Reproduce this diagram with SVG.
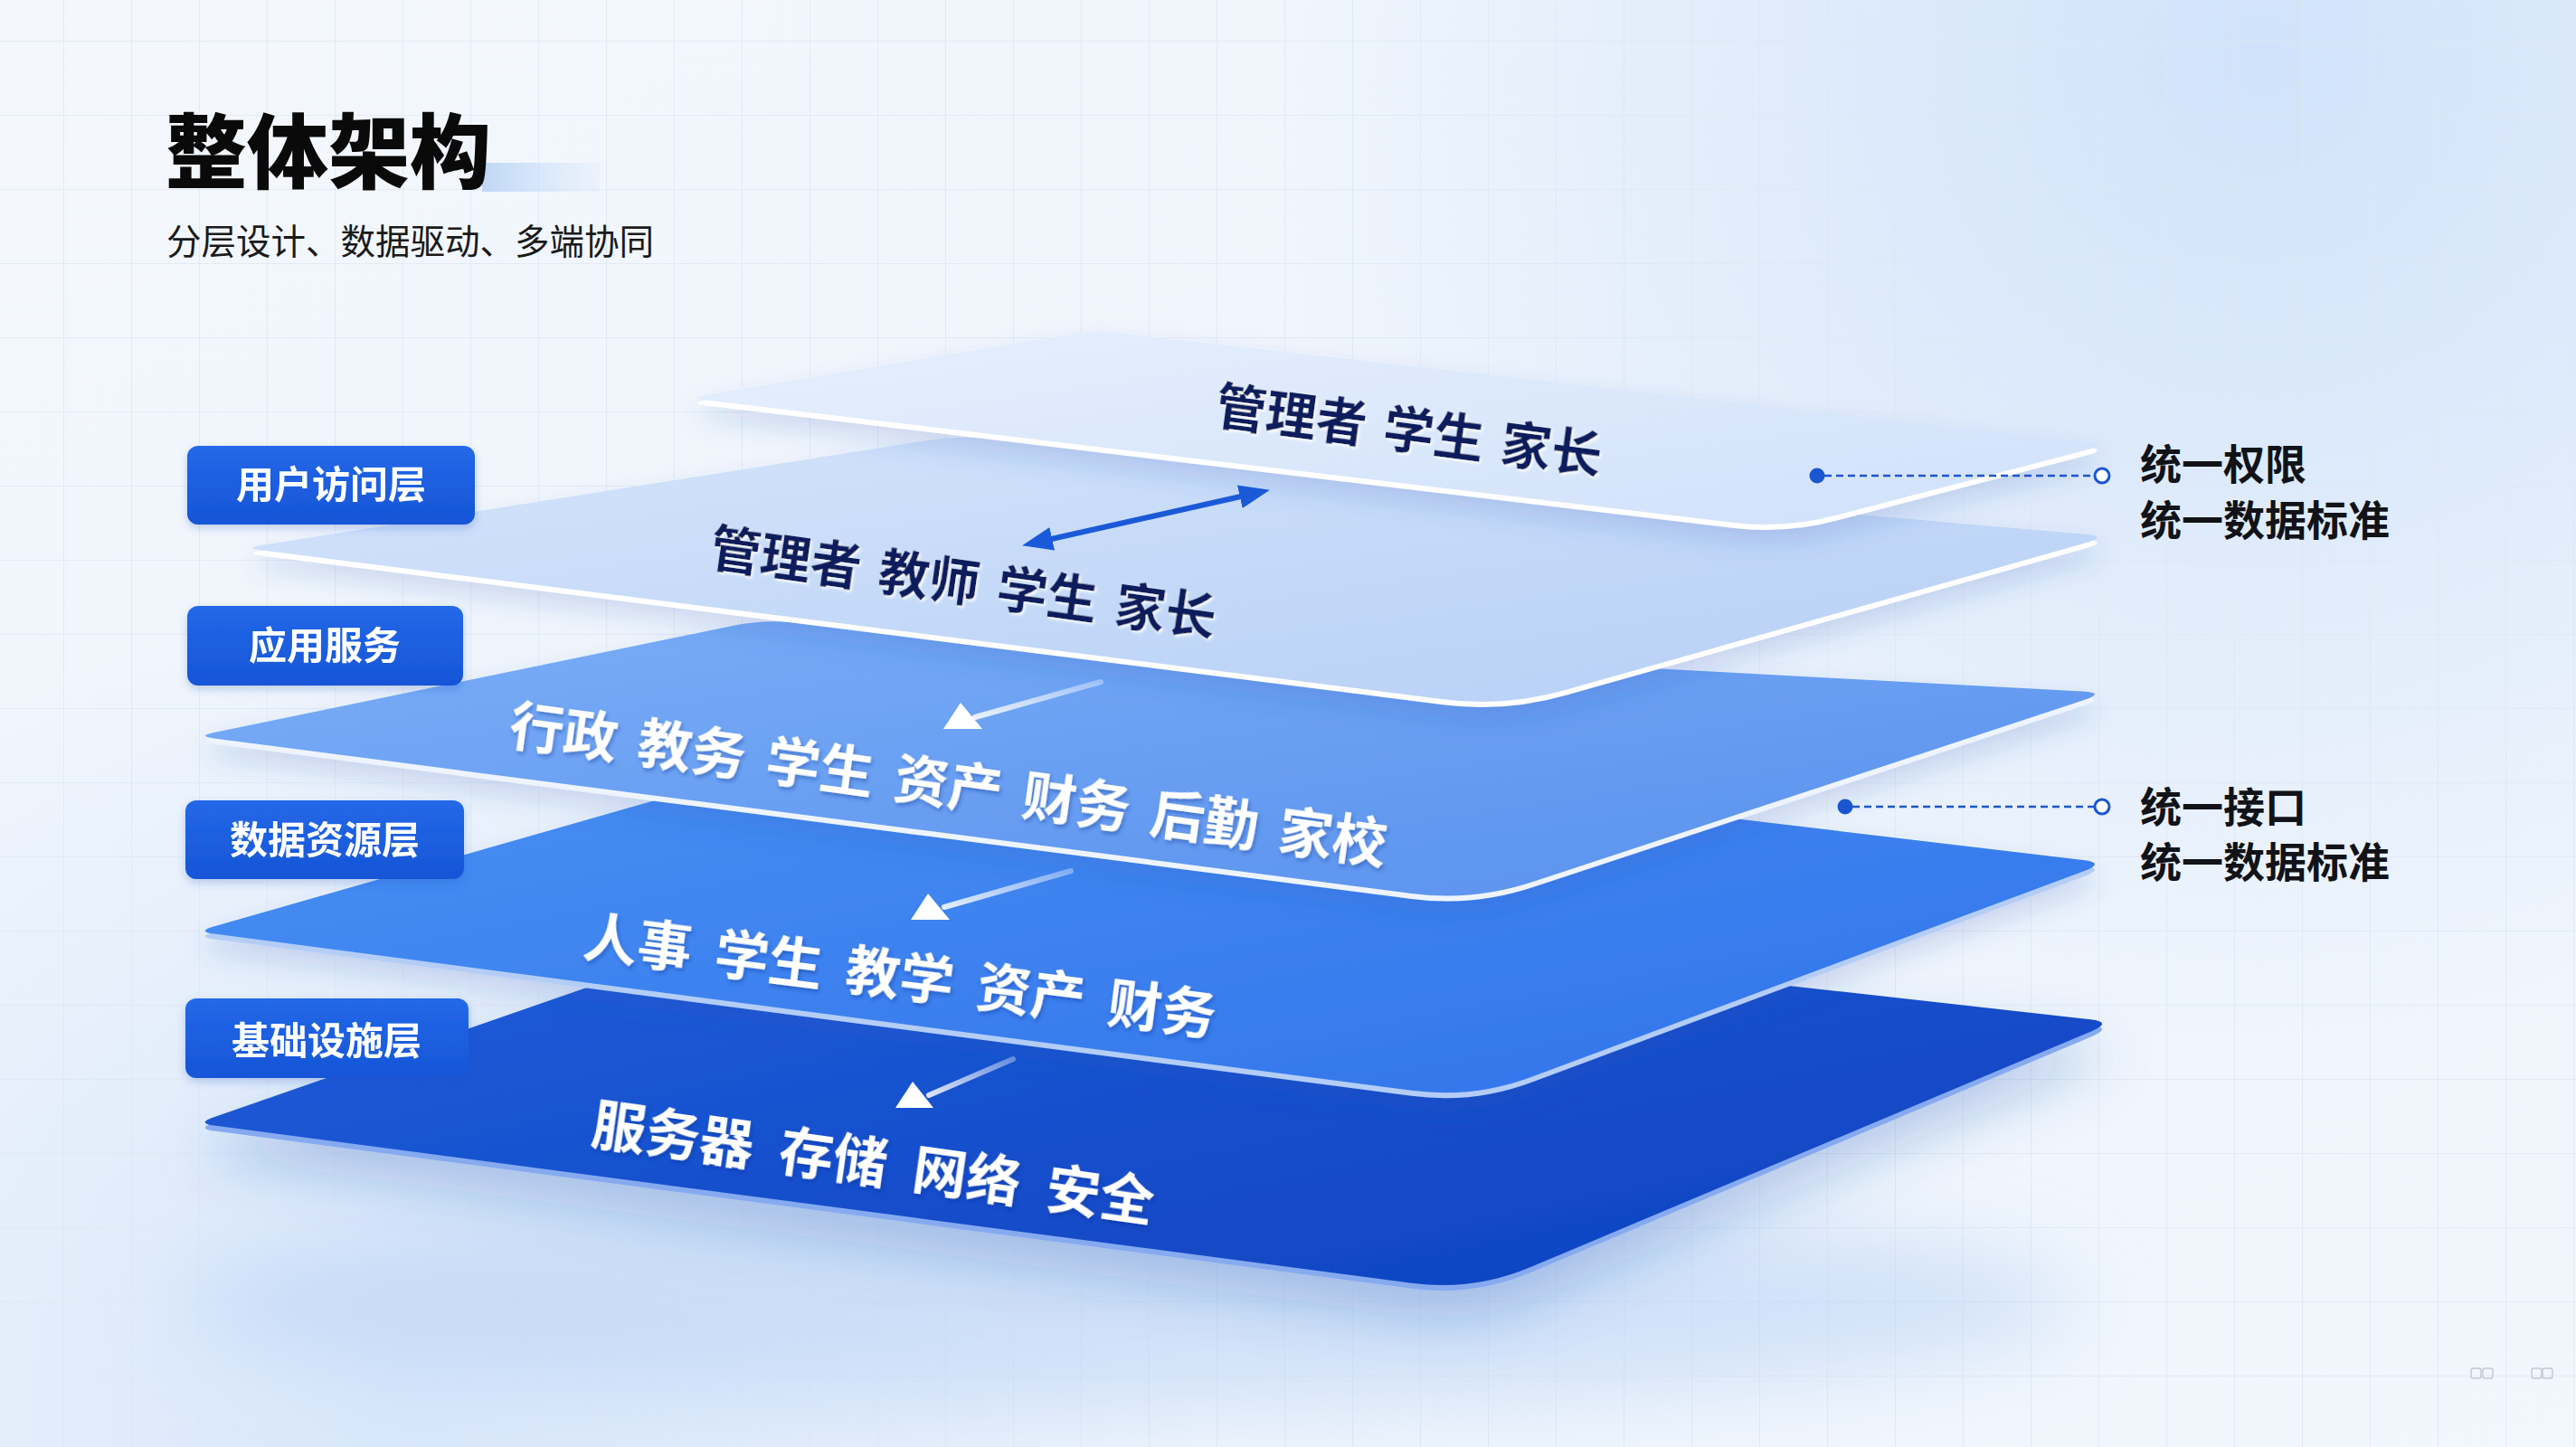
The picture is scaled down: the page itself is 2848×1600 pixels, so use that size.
<svg xmlns="http://www.w3.org/2000/svg" width="2848" height="1600" viewBox="0 0 2848 1600">
<defs>
<style>
.cjk{font-family:"Noto Sans CJK SC","Noto Sans",sans-serif}
.navy{font-family:"Noto Sans CJK SC",sans-serif;font-weight:700;font-size:56px;fill:#0c1a5c}
.wt{font-family:"Noto Sans CJK SC",sans-serif;font-weight:700;font-size:60px;fill:#ffffff}
.lbl-rect{fill:url(#lblg)}
.lbl-txt{font-family:"Noto Sans CJK SC",sans-serif;font-weight:700;font-size:42px;fill:#ffffff;text-anchor:middle}
.ann{font-family:"Noto Sans CJK SC",sans-serif;font-weight:700;font-size:46px;fill:#111318}
.dash{stroke:#1d56c9;stroke-width:2.4;stroke-dasharray:8 5;fill:none}
.dotf{fill:#1a56d0}
.doto{fill:#ffffff;stroke:#1a56d0;stroke-width:3}
.warr{fill:#ffffff}
</style>
<pattern id="grid" x="70" y="45" width="75" height="82" patternUnits="userSpaceOnUse">
<path d="M0,0 V82 M0,0 H75" stroke="#dde7f3" stroke-width="1.6" fill="none"/>
</pattern>
<linearGradient id="bg" x1="0" y1="0" x2="1" y2="1">
<stop offset="0" stop-color="#f4f8fd"/>
<stop offset="0.55" stop-color="#eef4fc"/>
<stop offset="1" stop-color="#f2f7fd"/>
</linearGradient>
<radialGradient id="glowTR" cx="2500" cy="60" r="1100" gradientUnits="userSpaceOnUse">
<stop offset="0" stop-color="#cfe2fa" stop-opacity="0.95"/>
<stop offset="1" stop-color="#cfe2fa" stop-opacity="0"/>
</radialGradient>
<radialGradient id="glowBL" cx="450" cy="1550" r="900" gradientUnits="userSpaceOnUse">
<stop offset="0" stop-color="#d2e3fa" stop-opacity="0.8"/>
<stop offset="1" stop-color="#d2e3fa" stop-opacity="0"/>
</radialGradient>
<linearGradient id="titlebar" x1="0" y1="0" x2="1" y2="0">
<stop offset="0" stop-color="#bcd5f6" stop-opacity="0.95"/>
<stop offset="1" stop-color="#d8e7fa" stop-opacity="0.3"/>
</linearGradient>
<linearGradient id="g1" x1="0" y1="0" x2="1" y2="1">
<stop offset="0" stop-color="#e6effd"/>
<stop offset="1" stop-color="#d0e1fa"/>
</linearGradient>
<linearGradient id="g2" x1="0" y1="0" x2="1" y2="1">
<stop offset="0" stop-color="#d4e4fb"/>
<stop offset="1" stop-color="#b6cff6"/>
</linearGradient>
<linearGradient id="g3" x1="0" y1="0" x2="1" y2="1">
<stop offset="0" stop-color="#7aaef7"/>
<stop offset="1" stop-color="#5890ed"/>
</linearGradient>
<linearGradient id="g4" x1="0" y1="0" x2="1" y2="1">
<stop offset="0" stop-color="#4a92f4"/>
<stop offset="1" stop-color="#3072ea"/>
</linearGradient>
<linearGradient id="g5" x1="0" y1="0" x2="1" y2="1">
<stop offset="0" stop-color="#2160dd"/>
<stop offset="1" stop-color="#0d40bd"/>
</linearGradient>
<linearGradient id="lblg" x1="0" y1="0" x2="0" y2="1">
<stop offset="0" stop-color="#2368e8"/>
<stop offset="1" stop-color="#1655d6"/>
</linearGradient>
<linearGradient id="fade" x1="1" y1="0" x2="0" y2="1">
<stop offset="0" stop-color="#ffffff" stop-opacity="0.35"/>
<stop offset="1" stop-color="#ffffff" stop-opacity="0.85"/>
</linearGradient>
<filter id="sh" x="-10%" y="-20%" width="120%" height="150%">
<feDropShadow dx="0" dy="14" stdDeviation="14" flood-color="#2456b8" flood-opacity="0.18"/>
</filter>
<filter id="shBig" x="-10%" y="-20%" width="120%" height="160%">
<feDropShadow dx="0" dy="30" stdDeviation="30" flood-color="#2456b8" flood-opacity="0.28"/>
</filter>
<filter id="tsW" x="-5%" y="-20%" width="110%" height="150%">
<feDropShadow dx="2" dy="3" stdDeviation="2" flood-color="#0a2c8c" flood-opacity="0.35"/>
</filter>
<filter id="tsN" x="-5%" y="-20%" width="110%" height="150%">
<feDropShadow dx="2" dy="2" stdDeviation="1.5" flood-color="#ffffff" flood-opacity="0.9"/>
</filter>
<filter id="lblsh" x="-10%" y="-20%" width="120%" height="160%">
<feDropShadow dx="0" dy="4" stdDeviation="5" flood-color="#1a4fc0" flood-opacity="0.25"/>
</filter>
<filter id="blur40" x="-30%" y="-100%" width="160%" height="300%">
<feGaussianBlur stdDeviation="45"/>
</filter>
<marker id="ah" viewBox="0 0 10 10" refX="7" refY="5" markerWidth="34" markerHeight="26" markerUnits="userSpaceOnUse" orient="auto-start-reverse" preserveAspectRatio="none">
<path d="M0,0 L10,5 L0,10 z" fill="#1a5ad8"/>
</marker>
</defs>

<g id="background">
<rect width="2848" height="1600" fill="url(#bg)"/>
<rect width="2848" height="1600" fill="url(#glowTR)"/>
<rect width="2848" height="1600" fill="url(#glowBL)"/>
<rect width="2848" height="1600" fill="url(#grid)"/>
<ellipse cx="1250" cy="1440" rx="1050" ry="120" fill="#b9d2f5" opacity="0.55" filter="url(#blur40)"/>
<g fill="none" stroke="#c3c7cf" stroke-width="1.4">
<rect x="2732" y="1513" width="11" height="11" rx="2.5"/>
<rect x="2745" y="1513" width="11" height="11" rx="2.5"/>
<rect x="2799" y="1513" width="11" height="11" rx="2.5"/>
<rect x="2811" y="1513" width="11" height="11" rx="2.5"/>
</g>
</g>

<g id="title">
<rect x="533" y="180" width="130" height="32" fill="url(#titlebar)"/>
<text x="183" y="201" class="cjk" font-size="90" font-weight="900" fill="#0a0a0a">整体架构</text>
<text x="184" y="281" class="cjk" font-size="38.5" font-weight="400" fill="#1a1a1a">分层设计、数据驱动、多端协同</text>
</g>

<g id="plane-infrastructure">
<g filter="url(#shBig)">
<path transform="translate(0,6)" fill="#86aaf0" d="M236.8,1244.6 Q217,1242 235.9,1235.4 L947.7,988 Q976,978 1005.8,981.4 L2311.2,1127.2 Q2336,1130 2313.1,1139.9 L1694.2,1400.3 Q1630,1428 1560.6,1418.8 Z"/>
<path fill="url(#g5)" d="M236.8,1244.6 Q217,1242 235.9,1235.4 L947.7,988 Q976,978 1005.8,981.4 L2311.2,1127.2 Q2336,1130 2313.1,1139.9 L1694.2,1400.3 Q1630,1428 1560.6,1418.8 Z"/>
</g>
<text x="652" y="1264" transform="rotate(8 652 1264)" class="wt" filter="url(#tsW)">服务器<tspan dx="29">存储</tspan><tspan dx="29">网络</tspan><tspan dx="29">安全</tspan></text>
</g>

<g id="plane-data">
<g filter="url(#sh)">
<path transform="translate(0,6)" fill="#b3cdf7" d="M236.8,1032.6 Q217,1030 236.2,1024.4 L996.2,807.3 Q1025,799 1054.8,802.6 L2303.2,951 Q2328,954 2304.6,962.9 L1695.4,1190 Q1630,1215 1560.6,1205.8 Z"/>
<path fill="url(#g4)" d="M236.8,1032.6 Q217,1030 236.2,1024.4 L996.2,807.3 Q1025,799 1054.8,802.6 L2303.2,951 Q2328,954 2304.6,962.9 L1695.4,1190 Q1630,1215 1560.6,1205.8 Z"/>
</g>
<text x="643" y="1057" transform="rotate(7.2 643 1057)" class="wt" filter="url(#tsW)">人事<tspan dx="26">学生</tspan><tspan dx="26">教学</tspan><tspan dx="26">资产</tspan><tspan dx="26">财务</tspan></text>
</g>

<g id="plane-application">
<g filter="url(#sh)">
<path transform="translate(0,6)" fill="#eef4ff" d="M236.8,816.6 Q217,814 236.6,809.9 L808.6,692.2 Q838,686 868,687.6 L2303,764.6 Q2328,766 2304.3,774 L1696.3,974.6 Q1630,997 1560.6,987.9 Z"/>
<path fill="url(#g3)" d="M236.8,816.6 Q217,814 236.6,809.9 L808.6,692.2 Q838,686 868,687.6 L2303,764.6 Q2328,766 2304.3,774 L1696.3,974.6 Q1630,997 1560.6,987.9 Z"/>
</g>
<text x="561" y="823" transform="rotate(7.8 561 823)" class="wt" filter="url(#tsW)">行政<tspan dx="23">教务</tspan><tspan dx="23">学生</tspan><tspan dx="23">资产</tspan><tspan dx="23">财务</tspan><tspan dx="23">后勤</tspan><tspan dx="23">家校</tspan></text>
</g>

<g id="plane-access">
<g filter="url(#sh)">
<path transform="translate(0,6)" fill="#ffffff" d="M289.8,608.5 Q270,606 289.7,602.8 L1026.4,486.7 Q1056,482 1085.9,484.6 L2306.1,590.8 Q2331,593 2307,600 L1732.2,762.5 Q1665,782 1595.6,773.2 Z"/>
<path fill="url(#g2)" d="M289.8,608.5 Q270,606 289.7,602.8 L1026.4,486.7 Q1056,482 1085.9,484.6 L2306.1,590.8 Q2331,593 2307,600 L1732.2,762.5 Q1665,782 1595.6,773.2 Z"/>
</g>
<text x="783" y="625" transform="rotate(8 783 625)" class="navy" filter="url(#tsN)">管理者<tspan dx="20">教师</tspan><tspan dx="20">学生</tspan><tspan dx="20">家长</tspan></text>
</g>

<g id="plane-top">
<g filter="url(#sh)">
<path transform="translate(0,6)" fill="#ffffff" d="M780.9,442.4 Q761,440 780.7,436.6 L1179.4,370.1 Q1209,365 1238.8,368.4 L2306.2,488.2 Q2331,491 2306.9,497.6 L2032.8,569.1 Q1975,585 1915.4,577.8 Z"/>
<path fill="url(#g1)" d="M780.9,442.4 Q761,440 780.7,436.6 L1179.4,370.1 Q1209,365 1238.8,368.4 L2306.2,488.2 Q2331,491 2306.9,497.6 L2032.8,569.1 Q1975,585 1915.4,577.8 Z"/>
</g>
<text x="1342" y="468" transform="rotate(7.5 1342 468)" class="navy" filter="url(#tsN)">管理者<tspan dx="19">学生</tspan><tspan dx="19">家长</tspan></text>
</g>

<g id="label-access" filter="url(#lblsh)">
<rect class="lbl-rect" x="207" y="493" width="318" height="87" rx="12"/>
<text class="lbl-txt" x="366" y="551">用户访问层</text>
</g>
<g id="label-application" filter="url(#lblsh)">
<rect class="lbl-rect" x="207" y="670" width="305" height="88" rx="12"/>
<text class="lbl-txt" x="359" y="729">应用服务</text>
</g>
<g id="label-data" filter="url(#lblsh)">
<rect class="lbl-rect" x="205" y="885" width="308" height="87" rx="12"/>
<text class="lbl-txt" x="359" y="944">数据资源层</text>
</g>
<g id="label-infrastructure" filter="url(#lblsh)">
<rect class="lbl-rect" x="205" y="1104" width="313" height="88" rx="12"/>
<text class="lbl-txt" x="361" y="1166">基础设施层</text>
</g>

<g id="connectors">
<line x1="1140" y1="601" x2="1394" y2="544" stroke="#1a5ad8" stroke-width="6" marker-start="url(#ah)" marker-end="url(#ah)"/>
<g id="arrow-app-data">
<line x1="1217" y1="754" x2="1078" y2="793" stroke="url(#fade)" stroke-width="6" stroke-linecap="round"/>
<polygon class="warr" points="1062,777 1043,806 1086,806"/>
</g>
<g id="arrow-data-infra">
<line x1="1184" y1="963" x2="1044" y2="1003" stroke="url(#fade)" stroke-width="6" stroke-linecap="round"/>
<polygon class="warr" points="1026,988 1007,1017 1050,1017"/>
</g>
<g id="arrow-infra">
<line x1="1120" y1="1171" x2="1027" y2="1211" stroke="url(#fade)" stroke-width="6" stroke-linecap="round"/>
<polygon class="warr" points="1009,1196 990,1225 1032,1225"/>
</g>
<g id="link-permissions">
<line class="dash" x1="2017" y1="526" x2="2316" y2="526"/>
<circle class="dotf" cx="2009" cy="526" r="8.5"/>
<circle class="doto" cx="2324" cy="526" r="8"/>
</g>
<g id="link-interface">
<line class="dash" x1="2048" y1="892" x2="2316" y2="892"/>
<circle class="dotf" cx="2040" cy="892" r="8.5"/>
<circle class="doto" cx="2324" cy="892" r="8"/>
</g>
</g>

<g id="annotation-top">
<text class="ann" x="2366" y="530">统一权限</text>
<text class="ann" x="2366" y="592">统一数据标准</text>
</g>
<g id="annotation-bottom">
<text class="ann" x="2366" y="909">统一接口</text>
<text class="ann" x="2366" y="970">统一数据标准</text>
</g>
</svg>
